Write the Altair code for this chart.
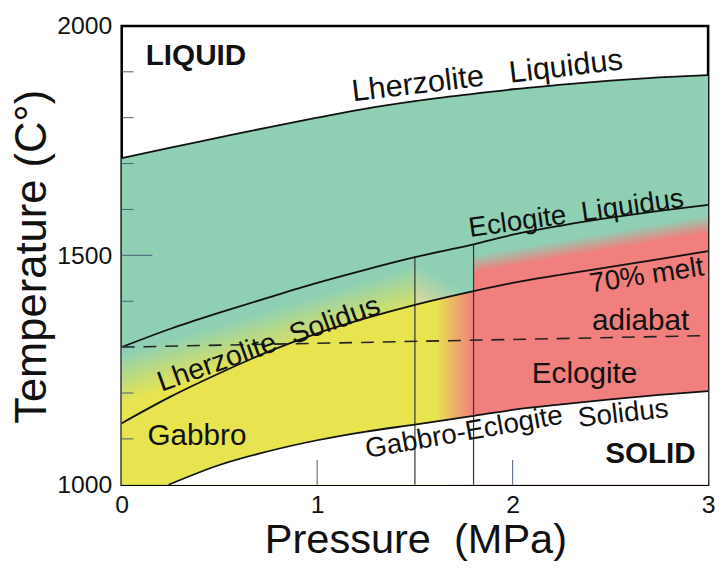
import altair as alt
import pandas as pd

# ---------------- data ----------------
P_GRID = [0.0, 0.25, 0.5, 0.75, 1.0, 1.25, 1.5, 1.8, 2.0, 2.25, 2.5, 2.75, 3.0]
T_LHERZ_LIQ = [1712, 1735, 1757, 1779, 1800, 1820, 1836, 1852, 1862, 1872, 1881, 1888, 1893]
T_ECL_LIQ = [1300, 1340, 1375, 1408, 1440, 1469, 1496, 1524, 1545, 1565, 1582, 1597, 1610]
T_LHERZ_SOL = [1134, 1192, 1243, 1290, 1330, 1363, 1392, 1422, 1440, 1458, 1475, 1492, 1509]

P_GAB = [0.24, 0.5, 0.75, 1.0, 1.25, 1.5, 1.8, 2.0, 2.25, 2.5, 2.75, 3.0]
T_GAB_SOL = [1000, 1043, 1073, 1097, 1116, 1131, 1150, 1163, 1175, 1186, 1196, 1204]

P_ADIABAT = [0.0, 3.0]
T_ADIABAT = [1300, 1325]

P_VERT = [1.5, 1.8]
T_VERT_TOP = [1496, 1524]

P_MIN, P_MAX = 0, 3
T_MIN, T_MAX = 1000, 2000

X_LABELS = [0, 1, 2, 3]
Y_LABELS = [1000, 1500, 2000]
X_TICKS_MAJOR = [1, 2]
Y_TICKS_MAJOR = [1500]
Y_TICKS_MINOR = [1100, 1200, 1300, 1400, 1600, 1700, 1800, 1900]

NB = "\u00a0"
LABEL_TEXT = ["Lherzolite" + NB * 3 + "Liquidus", "Eclogite" + NB * 2 + "Liquidus",
              "Lherzolite" + NB * 2 + "Solidus", "Gabbro-Eclogite", "Solidus",
              "70% melt", "adiabat", "Eclogite", "Gabbro"]
LABEL_P = [1.870, 2.325, 0.752, 1.752, 2.566, 2.686, 2.655, 2.368, 0.385]
LABEL_T = [1890, 1590, 1307, 1113, 1154, 1455, 1356, 1241, 1107]
LABEL_ANGLE = [353.3, 352, 340.3, 350, 353.5, 351.3, 0, 0, 0]
LABEL_SIZE = [31, 28, 29, 28, 28, 28, 30, 30, 30]

BOLD_TEXT = ["LIQUID", "SOLID"]
BOLD_P = [0.380, 2.705]
BOLD_T = [1935, 1067]

# ---------------- styling ----------------
FONT = "Liberation Sans"
TEAL = "#8fd0b4"
YELLOW = "#e7e44f"
RED = "#f07f7e"
TICK = "#4d5d7a"

curves = pd.DataFrame({"P": P_GRID, "lliq": T_LHERZ_LIQ, "eliq": T_ECL_LIQ,
                       "lsol": T_LHERZ_SOL})
curves["base"] = T_MIN
gab = pd.DataFrame({"P": P_GAB, "gsol": T_GAB_SOL})
gab["base"] = T_MIN
adia = pd.DataFrame({"P": P_ADIABAT, "T": T_ADIABAT})
vert = pd.DataFrame({"P": P_VERT, "top": T_VERT_TOP})
vert["base"] = T_MIN
labels = pd.DataFrame({"P": LABEL_P, "T": LABEL_T, "text": LABEL_TEXT,
                       "angle": LABEL_ANGLE, "size": LABEL_SIZE})
bold = pd.DataFrame({"P": BOLD_P, "T": BOLD_T, "text": BOLD_TEXT})
yminor = pd.DataFrame({"T": Y_TICKS_MINOR})
ymajor = pd.DataFrame({"T": Y_TICKS_MAJOR})
xmajor = pd.DataFrame({"P": X_TICKS_MAJOR})

xs = alt.Scale(domain=[P_MIN, P_MAX], nice=False, zero=False)
ys = alt.Scale(domain=[T_MIN, T_MAX], nice=False, zero=False)

xaxis = alt.Axis(values=X_LABELS, format="d", title="Pressure" + NB * 2 + "(MPa)",
                 ticks=False, domain=False, grid=False, labelFlush=False,
                 labelOverlap=False, labelPadding=8, labelFontSize=25,
                 labelFont=FONT, labelColor="#111", titleFont=FONT,
                 titleFontSize=42, titleFontWeight="normal", titleColor="#111",
                 titleX=297, titleY=69, titleAlign="center",
                 titleBaseline="alphabetic")
yaxis = alt.Axis(values=Y_LABELS, format="d", title="Temperature (C°)",
                 ticks=False, domain=False, grid=False, labelOverlap=False,
                 labelPadding=10, labelFontSize=25, labelFont=FONT,
                 labelColor="#111", titleFont=FONT, titleFontSize=44,
                 titleFontWeight="normal", titleColor="#111", titleAngle=270,
                 titleX=-77, titleY=233, titleAlign="center",
                 titleBaseline="alphabetic")


def X(f="P"):
    return alt.X(f + ":Q", scale=xs, axis=xaxis)


def Y(f):
    return alt.Y(f + ":Q", scale=ys, axis=yaxis)


def grad(stops, x1, y1, x2, y2):
    return alt.Gradient(gradient="linear",
                        stops=[alt.GradientStop(offset=o, color=c) for o, c in stops],
                        x1=x1, y1=y1, x2=x2, y2=y2)


left = curves[curves.P <= 1.5]
mid = curves[(curves.P >= 1.5) & (curves.P <= 1.8)]
right = curves[curves.P >= 1.8]


def area(df, fill, top, bottom):
    return alt.Chart(df).mark_area(fill=fill, opacity=1, interpolate="monotone").encode(
        x=X(), y=Y(top), y2=alt.Y2(bottom))


teal = area(curves, TEAL, "lliq", "base")
yellow = area(left, YELLOW, "lsol", "base")
mid_low = area(mid, grad([(0.0, YELLOW), (0.35, YELLOW), (1.0, RED)], 0, 0.5, 1, 0.5),
               "lsol", "base")
mid_up = area(mid, grad([(0.0, TEAL), (0.5, TEAL), (1.0, "#d3d79c")], 0.7, 0.1, 0.2, 1.0),
              "eliq", "lsol")
red = area(right, grad([(0.0, TEAL), (1.0, RED)], 0.0675, 0.1696, 0.0764, 0.2319),
           "eliq", "base")
band = area(left, grad([(0.0, TEAL), (1.0, YELLOW)], 0.0, 0.583, 0.1233, 0.8156),
            "eliq", "lsol")
white = area(gab, "white", "gsol", "base")

line_kw = dict(interpolate="monotone", color="#111", strokeWidth=1.8)
l_lliq = alt.Chart(curves).mark_line(**line_kw).encode(x=X(), y=Y("lliq"))
l_eliq = alt.Chart(curves).mark_line(**line_kw).encode(x=X(), y=Y("eliq"))
l_lsol = alt.Chart(curves).mark_line(**line_kw).encode(x=X(), y=Y("lsol"))
l_gab = alt.Chart(gab).mark_line(**line_kw).encode(x=X(), y=Y("gsol"))
l_adia = alt.Chart(adia).mark_line(color="#222", strokeWidth=1.6,
                                   strokeDash=[13, 9]).encode(x=X(), y=Y("T"))
l_vert = alt.Chart(vert).mark_rule(color="#333", strokeWidth=1.2).encode(
    x=X(), y=Y("top"), y2=alt.Y2("base"))

t_ymin = alt.Chart(yminor).mark_rule(color=TICK, strokeWidth=1).encode(
    y=Y("T"), x=alt.value(0), x2=alt.value(12))
t_ymaj = alt.Chart(ymajor).mark_rule(color=TICK, strokeWidth=1).encode(
    y=Y("T"), x=alt.value(0), x2=alt.value(31))
t_xmaj = alt.Chart(xmajor).mark_rule(color=TICK, strokeWidth=1).encode(
    x=X(), y=alt.value(464), y2=alt.value(439))

txt = alt.Chart(labels).mark_text(font=FONT, color="#111", align="center",
                                  baseline="middle").encode(
    x=X(), y=Y("T"), text="text:N",
    angle=alt.Angle("angle:Q", scale=None),
    size=alt.Size("size:Q", scale=None))
txt_bold = alt.Chart(bold).mark_text(font=FONT, color="#111", align="center",
                                     baseline="middle", fontWeight="bold",
                                     fontSize=30).encode(
    x=X(), y=Y("T"), text="text:N")

chart = alt.layer(
    teal, yellow, mid_low, mid_up, red, band, white,
    l_vert, l_lliq, l_eliq, l_lsol, l_gab, l_adia,
    t_ymin, t_ymaj, t_xmaj, txt, txt_bold
).properties(
    width=593, height=464,
    padding={"left": 115, "top": 15, "right": 10, "bottom": 76},
    autosize=alt.AutoSizeParams(type="none"),
).configure_view(stroke="black", strokeWidth=2.6)

chart.save("out.html", embed_options={"renderer": "svg", "actions": False})
